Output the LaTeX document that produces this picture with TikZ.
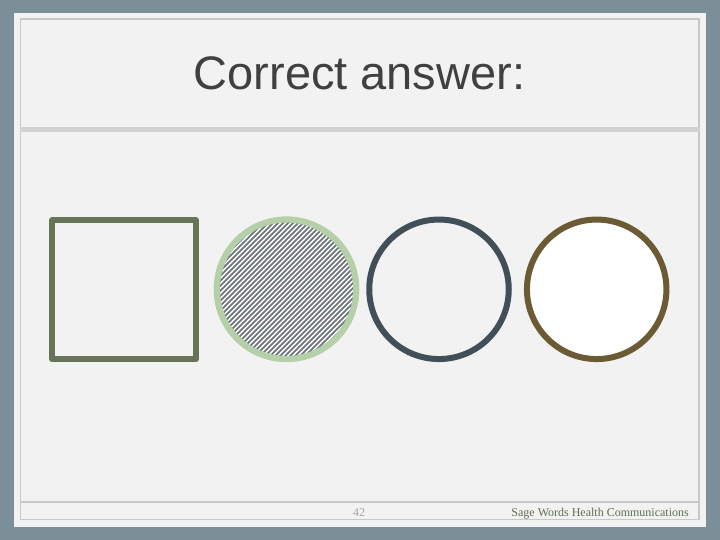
\documentclass[tikz,border=0pt]{standalone}
\usepackage{fontspec}
\setmainfont{Liberation Serif}
\newfontfamily\titlefont{Liberation Sans}
\definecolor{bgblue}{HTML}{7B8F98}
\definecolor{slide}{HTML}{F2F2F2}
\definecolor{framegray}{HTML}{C8C8C4}
\definecolor{bandgray}{HTML}{CFD2D0}
\definecolor{titlecol}{HTML}{404040}
\definecolor{sqcol}{HTML}{687458}
\definecolor{greencol}{HTML}{B5CFA8}
\definecolor{hatchcol}{HTML}{6F777D}
\definecolor{slatecol}{HTML}{414F59}
\definecolor{browncol}{HTML}{6B5A33}
\definecolor{numcol}{HTML}{A6A6A6}
\definecolor{footcol}{HTML}{5F6F52}
\tikzset{
  shapeline/.style={line width=6pt, line join=round},
  ring/.style={circle, minimum size=139.5pt, inner sep=0pt, shapeline},
  hatchline/.style={hatchcol, line width=1.77pt},
}
\begin{document}
\begin{tikzpicture}[x=1pt,y=-1pt]
\useasboundingbox (0,0) rectangle (720,540);
\fill[bgblue] (0,0) rectangle (720,540);
\fill[slide] (14,13) rectangle (706,527);
\draw[framegray, line width=1.6pt] (20.5,18.8) rectangle (699.2,519.3);
\fill[bandgray] (20,127) rectangle (699.5,132);
\draw[framegray, line width=1.6pt] (20.5,501.8) -- (699.2,501.8);
\node[anchor=base, font=\titlefont\fontsize{47}{50}\selectfont, text=titlecol, inner sep=0pt] (title) at (359.5,90) {Correct answer:};
\draw[sqcol, shapeline] (52,220.3) rectangle (196,359);
\node[ring, draw=greencol, fill=white] (c1) at (286.5,289.3) {};
\begin{scope}
  \clip (c1.center) circle (70);
  \foreach \k in {-30,...,30}
    \draw[hatchline] (186+\k*5,390) -- ++(200,-200);
\end{scope}
\draw[greencol, line width=6pt] (c1.center) circle (69.7);
\node[ring, draw=slatecol] (c2) at (439,289.3) {};
\node[ring, draw=browncol, fill=white] (c3) at (596.7,289.3) {};
\node[anchor=base, font=\fontsize{12}{14}\selectfont, text=numcol, inner sep=0pt] (num) at (359,516.5) {42};
\node[anchor=base east, font=\fontsize{12}{14}\selectfont, text=footcol, inner sep=0pt] (foot) at (689,516.5) {Sage Words Health Communications};
\end{tikzpicture}
\end{document}
